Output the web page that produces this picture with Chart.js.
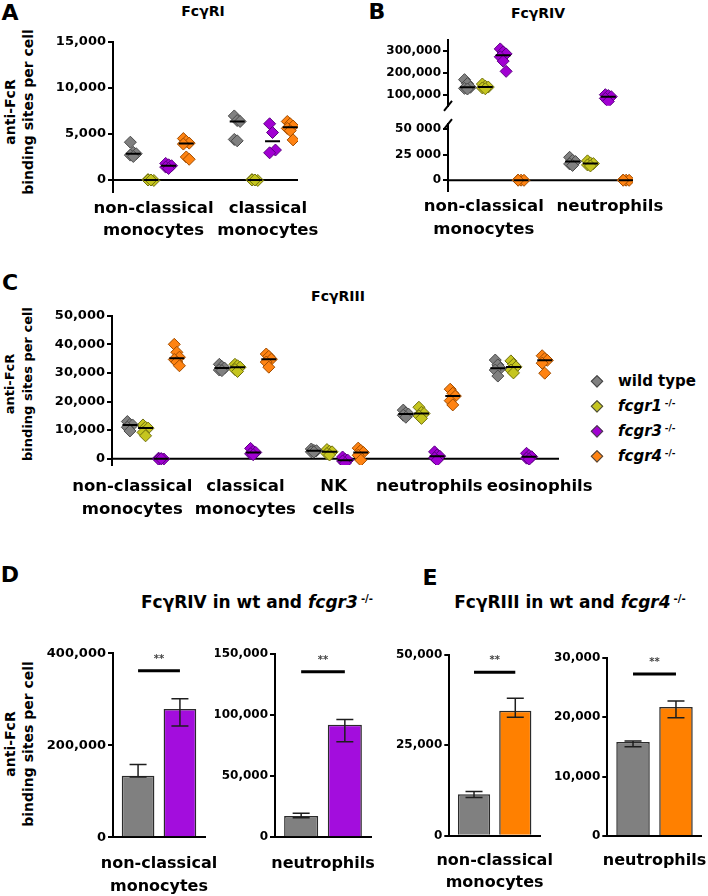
<!DOCTYPE html>
<html>
<head>
<meta charset="utf-8">
<script src="https://cdn.jsdelivr.net/npm/chart.js@4.4.1/dist/chart.umd.min.js"></script>
<style>
html,body{margin:0;padding:0;background:#fff;}
#fig{position:relative;width:708px;height:896px;overflow:hidden;font-family:"DejaVu Sans",sans-serif;font-weight:bold;color:#000;}
.box{position:absolute;}
.t{position:absolute;transform:translate(-50%,-50%);white-space:nowrap;line-height:1;}
.letter{font-size:22px;}
.ptitle{font-size:14px;}
.btitle{font-size:17px;}
.ytitle{position:absolute;width:240px;text-align:center;line-height:18px;white-space:nowrap;transform:translate(-50%,-50%) rotate(-90deg);}
.sup{font-size:0.6em;position:relative;top:-0.6em;margin-left:0.3em;font-style:normal;}
.leg{position:absolute;font-size:15px;line-height:1;white-space:nowrap;transform:translateY(-50%);}
.dia{position:absolute;width:6.5px;height:6.5px;transform:translate(-50%,-50%) rotate(45deg);border:1px solid #444;}
</style>
</head>
<body>
<div id="fig">
  <div class="t letter" style="left:10px;top:13px">A</div>
  <div class="t letter" style="left:377px;top:12px">B</div>
  <div class="t letter" style="left:10px;top:283px">C</div>
  <div class="t letter" style="left:10px;top:575px">D</div>
  <div class="t letter" style="left:430px;top:578px">E</div>

  <div class="t ptitle" style="left:203px;top:11px">FcγRI</div>
  <div class="t ptitle" style="left:538px;top:13px">FcγRIV</div>
  <div class="t ptitle" style="left:338px;top:296px">FcγRIII</div>
  <div class="t btitle" style="left:257px;top:602px">FcγRIV in wt and <i>fcgr3</i><span class="sup">-/-</span></div>
  <div class="t btitle" style="left:570px;top:602px">FcγRIII in wt and <i>fcgr4</i><span class="sup">-/-</span></div>

  <div class="ytitle" style="left:19px;top:112px;font-size:14px">anti-FcR<br>binding sites per cell</div>
  <div class="ytitle" style="left:19px;top:384px;font-size:13px">anti-FcR<br>binding sites per cell</div>
  <div class="ytitle" style="left:19px;top:744px;font-size:14px">anti-FcR<br>binding sites per cell</div>

  <div class="dia" style="left:597px;top:381px;background:#808080"></div>
  <div class="leg" style="left:618px;top:381px">wild type</div>
  <div class="dia" style="left:597px;top:406px;background:#c5c51f"></div>
  <div class="leg" style="left:618px;top:406px"><i>fcgr1</i><span class="sup">-/-</span></div>
  <div class="dia" style="left:597px;top:431px;background:#a100d2"></div>
  <div class="leg" style="left:618px;top:431px"><i>fcgr3</i><span class="sup">-/-</span></div>
  <div class="dia" style="left:597px;top:456px;background:#ff8312"></div>
  <div class="leg" style="left:618px;top:456px"><i>fcgr4</i><span class="sup">-/-</span></div>
</div>
<script>
// ---------------- DATA ----------------
const genotypes = ["wild type", "fcgr1 -/-", "fcgr3 -/-", "fcgr4 -/-"];

// Panel A: FcγRI
const groupsA = [["non-classical", "monocytes"], ["classical", "monocytes"]];
const A_wt    = [[4100, 3000, 2850, 2700, 2550], [6950, 6450, 6350, 4400, 4250]];
const A_fcgr1 = [[50, 0, -50, 0, 0], [50, 0, -50, 0, 0]];
const A_fcgr3 = [[1800, 1650, 1550, 1400, 1250], [6100, 5150, 3250, 2950]];
const A_fcgr4 = [[4500, 4200, 4000, 3900, 2500, 2250], [6350, 6100, 5850, 5600, 5350, 4350]];
const A_ticks = [0, 5000, 10000, 15000];
const A_tickLabels = ["0", "5,000", "10,000", "15,000"];

// Panel B: FcγRIV (broken axis)
const groupsB = [["non-classical", "monocytes"], ["neutrophils"]];
const B_wt    = [[170000, 152000, 135000, 130000, 127000], [22500, 19500, 18300, 16000, 14500]];
const B_fcgr1 = [[150000, 140000, 136000, 132000, 128000], [19000, 17000, 16300, 15000, 14000]];
const B_fcgr3 = [[311000, 297000, 288000, 275000, 255000, 208000], [101000, 97000, 92000, 84000, 70000]];
const B_fcgr4 = [[100, 0, -100, 0], [100, 0, -100, 0]];
const B_upperTicks = [100000, 200000, 300000];
const B_upperTickLabels = ["100,000", "200,000", "300,000"];
const B_lowerTicks = [0, 25000, 50000];
const B_lowerTickLabels = ["0", "25 000", "50 000"];

// Panel C: FcγRIII
const groupsC = [["non-classical", "monocytes"], ["classical", "monocytes"], ["NK", "cells"], ["neutrophils"], ["eosinophils"]];
const C_wt    = [[13000, 12000, 11800, 11000, 9700], [33000, 32200, 31700, 31000, 30800], [3400, 2900, 2800, 2400, 2300], [17000, 16000, 15600, 15200, 14500], [34500, 32800, 31600, 31000, 28900]];
const C_fcgr1 = [[11800, 11000, 10700, 9200, 8000], [33000, 32500, 32000, 31200, 30500], [3200, 2600, 2400, 1800, 1300], [18000, 16200, 15800, 15000, 14100], [34200, 33000, 32100, 31000, 30000]];
const C_fcgr3 = [[200, 0, -100, -200, 0], [3600, 2600, 2200, 1700, 1400], [600, -200, -500, -800, -1600], [2400, 1300, 900, 300, -500], [1900, 1100, 700, 200, -200]];
const C_fcgr4 = [[40000, 37200, 35500, 34700, 33800, 32500], [36600, 35800, 34800, 33800, 32000], [3700, 2900, 2200, 1200, -500], [24300, 22900, 21900, 20300, 18800], [36000, 35000, 34400, 33400, 29900]];
const C_ticks = [0, 10000, 20000, 30000, 40000, 50000];
const C_tickLabels = ["0", "10,000", "20,000", "30,000", "40,000", "50,000"];

// Panel D: FcγRIV in wt and fcgr3-/-  (mean, error low, error high)
const D_series = ["wild type", "fcgr3 -/-"];
const D_ncGroup = ["non-classical", "monocytes"];
const D_ncMean = [134000, 279000];
const D_ncLow  = [131000, 242000];
const D_ncHigh = [158000, 301000];
const D_ncSig = 362000;
const D_ncTicks = [0, 200000, 400000];
const D_ncTickLabels = ["0", "200,000", "400,000"];
const D_neuGroup = ["neutrophils"];
const D_neuMean = [17400, 92100];
const D_neuLow  = [16000, 78200];
const D_neuHigh = [19600, 96500];
const D_neuSig = 135500;
const D_neuTicks = [0, 50000, 100000, 150000];
const D_neuTickLabels = ["0", "50,000", "100,000", "150,000"];

// Panel E: FcγRIII in wt and fcgr4-/-
const E_series = ["wild type", "fcgr4 -/-"];
const E_ncGroup = ["non-classical", "monocytes"];
const E_ncMean = [11500, 34600];
const E_ncLow  = [10600, 32800];
const E_ncHigh = [12200, 38000];
const E_ncSig = 45200;
const E_ncTicks = [0, 25000, 50000];
const E_ncTickLabels = ["0", "25,000", "50,000"];
const E_neuGroup = ["neutrophils"];
const E_neuMean = [15800, 21700];
const E_neuLow  = [15000, 19900];
const E_neuHigh = [16000, 22700];
const E_neuSig = 27260;
const E_neuTicks = [0, 10000, 20000, 30000];
const E_neuTickLabels = ["0", "10,000", "20,000", "30,000"];

// ---------------- STYLE / LAYOUT ----------------
const FONT = "DejaVu Sans";
const pointFill   = ["#808080", "#c5c51f", "#a100d2", "#ff8312"];
const pointBorder = ["#4a4a4a", "#70700f", "#5a0080", "#a04c00"];
const barFill = { wt: "#808080", f3: "#a30ddd", f4: "#ff8000" };
const DODGE = 0.17, JIT = 0.028;

function fnt(size, lh) { return { family: FONT, weight: "bold", size: size, lineHeight: lh || 1.2 }; }
function median(a) { const s = [...a].sort((x, y) => x - y); const n = s.length; return n % 2 ? s[(n - 1) / 2] : (s[n / 2 - 1] + s[n / 2]) / 2; }
function geom(box, area) { return { yW: area.l - box.l, padTop: area.t - box.t, padRight: box.r - area.r, xH: box.b - area.b }; }
function mount(box) {
  const w = document.createElement("div");
  w.className = "box";
  w.style.left = box.l + "px"; w.style.top = box.t + "px";
  w.style.width = (box.r - box.l) + "px"; w.style.height = (box.b - box.t) + "px";
  const c = document.createElement("canvas");
  w.appendChild(c);
  document.getElementById("fig").appendChild(w);
  return c;
}

const zeroLinePlugin = {
  id: "zeroLine",
  beforeDatasetsDraw(chart) {
    const a = chart.chartArea, y = chart.scales.y, ctx = chart.ctx;
    const py = y.getPixelForValue(0);
    if (py < a.top - 1 || py > a.bottom + 1) return;
    ctx.save(); ctx.strokeStyle = "#000"; ctx.lineWidth = 2;
    ctx.beginPath(); ctx.moveTo(a.left - 1, py); ctx.lineTo(a.right, py); ctx.stroke(); ctx.restore();
  }
};
function breakPlugin(where) {
  return {
    id: "axisBreak",
    afterDraw(chart) {
      if (!where) return;
      const a = chart.chartArea, ctx = chart.ctx;
      const y = where === "bottom" ? a.bottom : a.top;
      ctx.save(); ctx.strokeStyle = "#000"; ctx.lineWidth = 2;
      ctx.beginPath(); ctx.moveTo(a.left - 4, y + 5); ctx.lineTo(a.left + 4, y - 5); ctx.stroke(); ctx.restore();
    }
  };
}

function scatterDatasets(seriesList, keep) {
  const ds = [];
  seriesList.forEach((ser, s) => {
    const pts = [], meds = [];
    ser.forEach((vals, g) => {
      const cx = g + (s - 1.5) * DODGE;
      vals.forEach((v, j) => { if (keep(v)) pts.push({ x: cx + ((j % 3) - 1) * JIT, y: v }); });
      const m = median(vals);
      if (keep(m)) meds.push({ x: cx, y: m });
    });
    ds.push({ label: genotypes[s], data: pts, order: 2,
      pointStyle: "rectRot", pointRadius: 6, pointHoverRadius: 6,
      pointBackgroundColor: pointFill[s], pointBorderColor: pointBorder[s], pointBorderWidth: 1,
      backgroundColor: pointFill[s], borderColor: pointBorder[s] });
    ds.push({ label: genotypes[s] + " median", data: meds, order: 1,
      pointStyle: "line", pointRadius: 7.5, pointHoverRadius: 7.5,
      pointBorderColor: "#000", pointBorderWidth: 2, borderColor: "#000" });
  });
  return ds;
}

function scatterChart(cfg) {
  const g = geom(cfg.box, cfg.area);
  const canvas = mount(cfg.box);
  return new Chart(canvas, {
    type: "scatter",
    data: { datasets: scatterDatasets(cfg.series, cfg.keep || (() => true)) },
    options: {
      responsive: true, maintainAspectRatio: false, animation: false, events: [],
      layout: { autoPadding: false, padding: { left: 0, top: g.padTop, right: g.padRight, bottom: cfg.showX ? 0 : g.xH } },
      plugins: { legend: { display: false }, tooltip: { enabled: false } },
      scales: {
        x: {
          type: "linear", min: cfg.xMin, max: cfg.xMax, display: cfg.showX,
          grid: { display: false, drawTicks: false, tickLength: 0 }, border: { display: false },
          afterBuildTicks: s => { s.ticks = cfg.labelPos.map(v => ({ value: v })); },
          afterFit: s => { s.height = g.xH; },
          ticks: { autoSkip: false, maxRotation: 0, minRotation: 0, padding: cfg.xPad, color: "#000",
                   font: fnt(cfg.xFont, 1.37), callback: (v, i) => cfg.groups[i] }
        },
        y: {
          type: "linear", min: cfg.yMin, max: cfg.yMax,
          afterBuildTicks: s => { s.ticks = cfg.yTicks.map(v => ({ value: v })); },
          afterFit: s => { s.width = g.yW; },
          grid: { drawOnChartArea: false, drawTicks: true, tickLength: 5, color: "#000", lineWidth: 2 },
          border: { display: true, color: "#000", width: 2 },
          ticks: { padding: 2, color: "#000", font: fnt(cfg.yFont), callback: (v, i) => cfg.yLabels[i] }
        }
      }
    },
    plugins: [zeroLinePlugin, breakPlugin(cfg.brk)]
  });
}

const errPlugin = {
  id: "errBars",
  afterDatasetsDraw(chart) {
    const ctx = chart.ctx, y = chart.scales.y;
    chart.data.datasets.forEach((ds, i) => {
      const meta = chart.getDatasetMeta(i);
      meta.data.forEach((bar, j) => {
        const lo = y.getPixelForValue(ds.errLow[j]), hi = y.getPixelForValue(ds.errHigh[j]);
        ctx.save(); ctx.strokeStyle = "#1e1e1e"; ctx.lineWidth = 1.5;
        ctx.beginPath();
        ctx.moveTo(bar.x, lo); ctx.lineTo(bar.x, hi);
        ctx.moveTo(bar.x - 8.5, lo); ctx.lineTo(bar.x + 8.5, lo);
        ctx.moveTo(bar.x - 8.5, hi); ctx.lineTo(bar.x + 8.5, hi);
        ctx.stroke(); ctx.restore();
      });
    });
  }
};
function sigPlugin(value) {
  return {
    id: "sigBar",
    afterDatasetsDraw(chart) {
      const ctx = chart.ctx, y = chart.scales.y;
      const b0 = chart.getDatasetMeta(0).data[0], b1 = chart.getDatasetMeta(1).data[0];
      const py = y.getPixelForValue(value);
      ctx.save(); ctx.strokeStyle = "#000"; ctx.lineWidth = 3;
      ctx.beginPath(); ctx.moveTo(b0.x, py); ctx.lineTo(b1.x, py); ctx.stroke();
      ctx.fillStyle = "#444"; ctx.font = "bold 10px '" + FONT + "'"; ctx.textAlign = "center"; ctx.textBaseline = "alphabetic";
      ctx.fillText("**", (b0.x + b1.x) / 2, py - 9);
      ctx.restore();
    }
  };
}

function barChart(cfg) {
  const g = geom(cfg.box, cfg.area);
  const canvas = mount(cfg.box);
  return new Chart(canvas, {
    type: "bar",
    data: {
      labels: [cfg.group],
      datasets: cfg.means.map((m, i) => ({
        label: cfg.series[i], data: [m], errLow: [cfg.low[i]], errHigh: [cfg.high[i]],
        backgroundColor: cfg.colors[i], borderColor: "#2b2b2b", borderWidth: 1.5, borderSkipped: "bottom",
        categoryPercentage: 0.91, barPercentage: 0.78
      }))
    },
    options: {
      responsive: true, maintainAspectRatio: false, animation: false, events: [],
      layout: { autoPadding: false, padding: { left: 0, top: g.padTop, right: g.padRight, bottom: 0 } },
      plugins: { legend: { display: false }, tooltip: { enabled: false } },
      scales: {
        x: {
          grid: { display: false, drawTicks: false, tickLength: 0 }, border: { display: true, color: "#000", width: 2 },
          afterFit: s => { s.height = g.xH; },
          ticks: { autoSkip: false, maxRotation: 0, minRotation: 0, padding: cfg.xPad, color: "#000", font: fnt(16, 1.42) }
        },
        y: {
          type: "linear", min: 0, max: cfg.yMax,
          afterBuildTicks: s => { s.ticks = cfg.yTicks.map(v => ({ value: v })); },
          afterFit: s => { s.width = g.yW; },
          grid: { drawOnChartArea: false, drawTicks: true, tickLength: 5, color: "#000", lineWidth: 2 },
          border: { display: true, color: "#000", width: 2 },
          ticks: { padding: 2, color: "#000", font: fnt(cfg.yFont), callback: (v, i) => cfg.yLabels[i] }
        }
      }
    },
    plugins: [errPlugin, sigPlugin(cfg.sig)]
  });
}

// ---------------- BUILD ----------------
scatterChart({
  box: { l: 0, t: 0, r: 340, b: 250 }, area: { l: 113, t: 41.7, r: 298, b: 192 },
  series: [A_wt, A_fcgr1, A_fcgr3, A_fcgr4], groups: groupsA, labelPos: [-0.06, 1.04],
  xMin: -0.45, xMax: 1.33, yMin: -1300, yMax: 15000, yTicks: A_ticks, yLabels: A_tickLabels,
  showX: true, xPad: 5, xFont: 16.5, yFont: 13
});
scatterChart({
  box: { l: 340, t: 0, r: 760, b: 115 }, area: { l: 448, t: 40.4, r: 633, b: 114.3 },
  series: [B_wt, B_fcgr1, B_fcgr3, B_fcgr4], groups: groupsB, labelPos: [-0.1, 1.1],
  keep: v => v >= 50000,
  xMin: -0.44, xMax: 1.32, yMin: 50000, yMax: 350000, yTicks: B_upperTicks, yLabels: B_upperTickLabels,
  showX: false, xPad: 4.5, xFont: 16.5, yFont: 12, brk: "bottom"
});
scatterChart({
  box: { l: 340, t: 115, r: 760, b: 250 }, area: { l: 448, t: 123, r: 633, b: 191.4 },
  series: [B_wt, B_fcgr1, B_fcgr3, B_fcgr4], groups: groupsB, labelPos: [-0.1, 1.1],
  keep: v => v < 50000,
  xMin: -0.44, xMax: 1.32, yMin: -11000, yMax: 55000, yTicks: B_lowerTicks, yLabels: B_lowerTickLabels,
  showX: true, xPad: 4.5, xFont: 16.5, yFont: 12, brk: "top"
});
scatterChart({
  box: { l: 0, t: 300, r: 660, b: 530 }, area: { l: 112, t: 315.7, r: 559, b: 465 },
  series: [C_wt, C_fcgr1, C_fcgr3, C_fcgr4], groups: groupsC, labelPos: [-0.23, 1, 1.96, 3, 4.2],
  xMin: -0.45, xMax: 4.41, yMin: -2200, yMax: 50000, yTicks: C_ticks, yLabels: C_tickLabels,
  showX: true, xPad: 10.5, xFont: 16.5, yFont: 13
});
barChart({
  box: { l: 0, t: 640, r: 285, b: 896 }, area: { l: 113, t: 653.3, r: 205, b: 837.3 },
  group: D_ncGroup, series: D_series, means: D_ncMean, low: D_ncLow, high: D_ncHigh, sig: D_ncSig,
  colors: [barFill.wt, barFill.f3], yMax: 400000, yTicks: D_ncTicks, yLabels: D_ncTickLabels, yFont: 13, xPad: 15.5
});
barChart({
  box: { l: 215, t: 640, r: 451, b: 896 }, area: { l: 275, t: 654, r: 371, b: 837.3 },
  group: D_neuGroup, series: D_series, means: D_neuMean, low: D_neuLow, high: D_neuHigh, sig: D_neuSig,
  colors: [barFill.wt, barFill.f3], yMax: 150000, yTicks: D_neuTicks, yLabels: D_neuTickLabels, yFont: 12, xPad: 15.5
});
barChart({
  box: { l: 381, t: 640, r: 620, b: 896 }, area: { l: 449.3, t: 655, r: 540, b: 835.7 },
  group: E_ncGroup, series: E_series, means: E_ncMean, low: E_ncLow, high: E_ncHigh, sig: E_ncSig,
  colors: [barFill.wt, barFill.f4], yMax: 50000, yTicks: E_ncTicks, yLabels: E_ncTickLabels, yFont: 12, xPad: 13.5
});
barChart({
  box: { l: 550, t: 640, r: 782, b: 896 }, area: { l: 607.3, t: 657.7, r: 701.7, b: 836 },
  group: E_neuGroup, series: E_series, means: E_neuMean, low: E_neuLow, high: E_neuHigh, sig: E_neuSig,
  colors: [barFill.wt, barFill.f4], yMax: 30000, yTicks: E_neuTicks, yLabels: E_neuTickLabels, yFont: 12, xPad: 13.5
});
</script>
</body>
</html>
